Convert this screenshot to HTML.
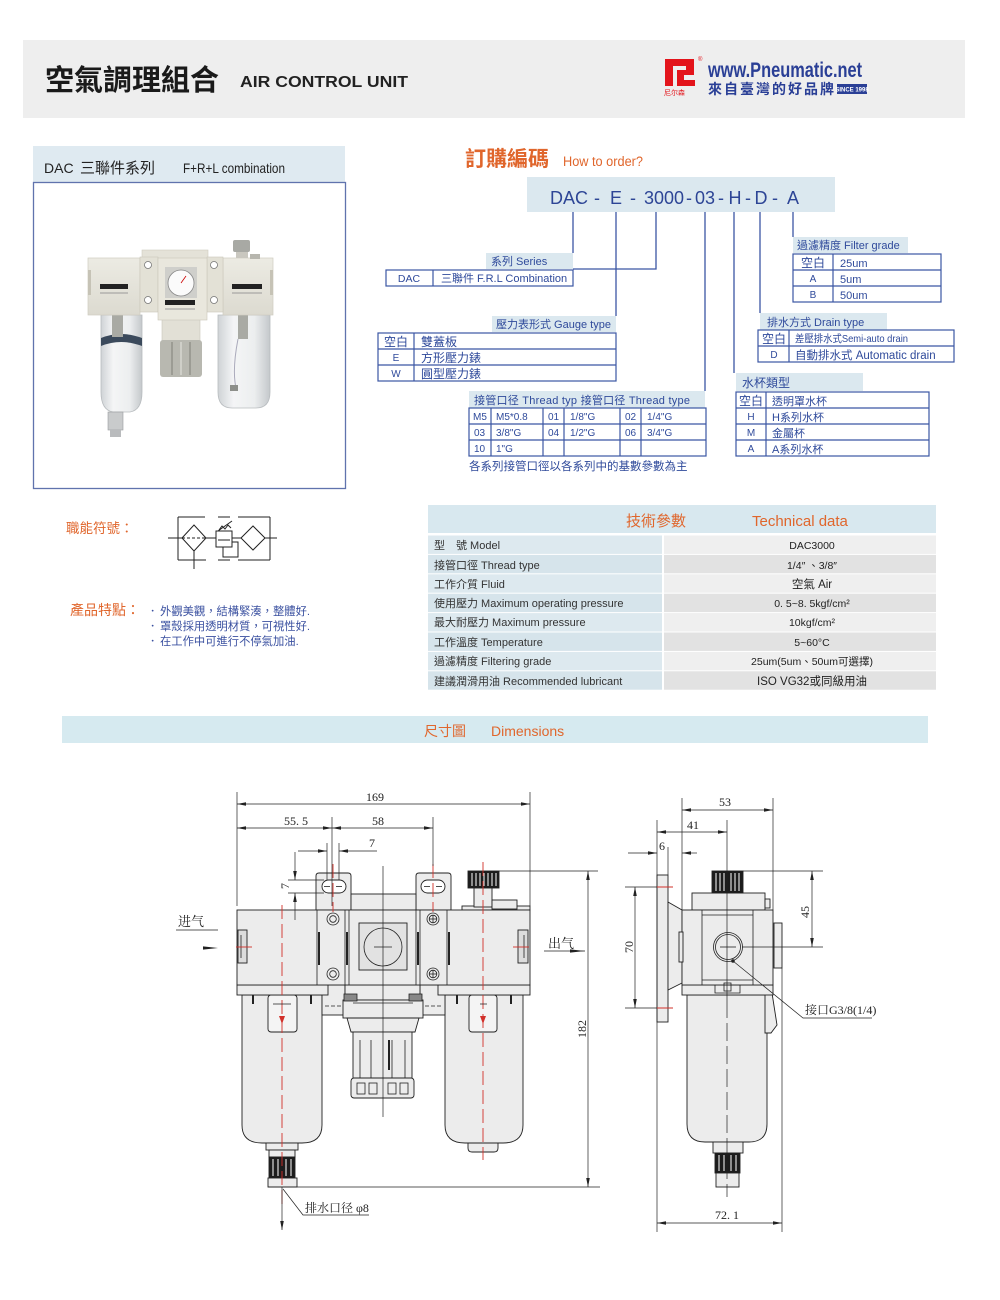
<!DOCTYPE html>
<html><head><meta charset="utf-8">
<style>
html,body{margin:0;padding:0;background:#fff;}
body{width:1000px;height:1300px;position:relative;overflow:hidden;}
svg{position:absolute;left:0;top:0;}
.s{font-family:"Liberation Sans","Noto Sans CJK TC",sans-serif;}
.r{font-family:"Liberation Serif","Noto Serif CJK SC",serif;}
</style></head><body>
<svg width="1000" height="1300" viewBox="0 0 1000 1300" xmlns="http://www.w3.org/2000/svg">
<defs>
<marker id="a" viewBox="0 0 10 4" refX="10" refY="2" markerWidth="10" markerHeight="3.6" markerUnits="userSpaceOnUse" orient="auto-start-reverse"><path d="M0,0 L10,2 L0,4 z" fill="#222"/></marker>
<linearGradient id="bowl" x1="0" x2="1" y1="0" y2="0"><stop offset="0" stop-color="#cfd3d6"/><stop offset="0.3" stop-color="#f4f5f6"/><stop offset="0.7" stop-color="#eceeef"/><stop offset="1" stop-color="#c4c8cb"/></linearGradient>
<linearGradient id="head" x1="0" x2="0" y1="0" y2="1"><stop offset="0" stop-color="#ecebe3"/><stop offset="1" stop-color="#dcdad0"/></linearGradient>
</defs>

<!-- ===== HEADER ===== -->
<rect x="23" y="40" width="942" height="78" fill="#eeeeee"/>
<text x="45" y="90" font-size="29" font-weight="bold" class="s" fill="#1a1a1a">空氣調理組合</text>
<text x="240" y="87" font-size="16" font-weight="bold" class="s" fill="#222" textLength="168" lengthAdjust="spacingAndGlyphs">AIR CONTROL UNIT</text>
<path d="M665,59 H694 V73 H686 V66 H673 V86 H665 Z" fill="#e3141b"/>
<path d="M677,70 H694 V75 H684 V80 H695 V86 H677 Z" fill="#e3141b"/>
<text x="664" y="95" font-size="7" class="s" fill="#e3141b">尼尔森</text>
<text x="698" y="61" font-size="6" class="s" fill="#e3141b">®</text>
<text transform="translate(708,77) scale(0.78,1)" font-size="21" font-weight="bold" class="s" fill="#2a3f96">www.Pneumatic.net</text>
<text x="708" y="94" font-size="14" font-weight="bold" class="s" fill="#2a3f96" textLength="126" lengthAdjust="spacing">來自臺灣的好品牌</text>
<rect x="837" y="84" width="30" height="10" fill="#2a3f96"/>
<text x="852" y="91.5" font-size="6" font-weight="bold" class="s" fill="#fff" text-anchor="middle">SINCE 1998</text>

<!-- ===== LEFT PRODUCT BOX ===== -->
<rect x="33" y="146" width="312" height="36" fill="#dfeaf1"/>
<text x="44" y="173" font-size="14" class="s" fill="#222">DAC</text>
<text x="80" y="173" font-size="15" class="s" fill="#222">三聯件系列</text>
<text x="183" y="173" font-size="14" class="s" fill="#222" textLength="102" lengthAdjust="spacingAndGlyphs">F+R+L combination</text>
<rect x="33.5" y="182.5" width="312" height="306" fill="#fff" stroke="#6073ad" stroke-width="1.3"/>

<!-- product photo -->
<g>
 <path d="M101,315 V392 Q101,410 113,412 H130 Q142,410 142,392 V315 Z" fill="url(#bowl)" stroke="#b8bcbf" stroke-width="0.8"/>
 <path d="M101,338 Q121,330 142,338 L142,346 Q121,338 101,346 Z" fill="#3b4a5c"/>
 <rect x="112" y="315" width="11" height="22" fill="#a9aaa4"/>
 <rect x="108" y="412" width="15" height="18" fill="#c9cbcc" stroke="#9a9c9e" stroke-width="0.6"/>
 <rect x="110" y="430" width="11" height="7" fill="#b9bbbd"/>
 <path d="M218,315 V392 Q218,408 232,408 H256 Q270,408 270,392 V315 Z" fill="url(#bowl)" stroke="#b8bcbf" stroke-width="0.8"/>
 <rect x="238" y="315" width="10" height="24" fill="#a9aaa4"/>
 <path d="M238,339 Q232,370 236,388" stroke="#aab" stroke-width="1" fill="none"/>
 <rect x="230" y="385" width="8" height="6" fill="#8d8f8a"/>
 <rect x="162" y="318" width="38" height="24" fill="#e2e0d6" stroke="#cac7bb" stroke-width="0.6"/>
 <rect x="160" y="340" width="42" height="37" rx="3" fill="#b8b8b0"/>
 <line x1="172" y1="342" x2="172" y2="375" stroke="#9c9c94" stroke-width="2"/>
 <line x1="181" y1="342" x2="181" y2="375" stroke="#cfcfc8" stroke-width="2"/>
 <line x1="190" y1="342" x2="190" y2="375" stroke="#9c9c94" stroke-width="2"/>
 <rect x="88" y="258" width="52" height="57" fill="url(#head)" stroke="#cfccc0" stroke-width="0.7"/>
 <rect x="88" y="270" width="3" height="25" fill="#c6c3b6"/>
 <rect x="223" y="258" width="50" height="57" fill="url(#head)" stroke="#cfccc0" stroke-width="0.7"/>
 <rect x="270" y="270" width="3" height="25" fill="#c6c3b6"/>
 <rect x="142" y="250" width="66" height="9" fill="#e4e2d8" stroke="#cfccc0" stroke-width="0.6"/>
 <rect x="140" y="257" width="18" height="55" fill="#e3e1d6" stroke="#cac7ba" stroke-width="0.6"/>
 <rect x="207" y="257" width="16" height="55" fill="#e3e1d6" stroke="#cac7ba" stroke-width="0.6"/>
 <rect x="158" y="258" width="49" height="62" fill="#e9e7dd" stroke="#cac7ba" stroke-width="0.6"/>
 <circle cx="148" cy="265" r="3.5" fill="#fff" stroke="#777" stroke-width="0.8"/>
 <circle cx="148" cy="300" r="3.5" fill="#fff" stroke="#777" stroke-width="0.8"/>
 <circle cx="214" cy="265" r="3.5" fill="#fff" stroke="#777" stroke-width="0.8"/>
 <circle cx="214" cy="300" r="3.5" fill="#fff" stroke="#777" stroke-width="0.8"/>
 <rect x="165" y="267" width="32" height="31" fill="#cfcfcb"/>
 <circle cx="181" cy="283" r="13" fill="#fbfbfb" stroke="#888" stroke-width="0.8"/>
 <line x1="181" y1="283" x2="186" y2="276" stroke="#c00" stroke-width="0.8"/>
 <rect x="165" y="300" width="30" height="5" fill="#222"/>
 <rect x="100" y="284" width="28" height="5" fill="#222"/>
 <rect x="232" y="284" width="30" height="5" fill="#222"/>
 <line x1="100" y1="293" x2="128" y2="293" stroke="#999" stroke-width="1"/>
 <line x1="232" y1="293" x2="262" y2="293" stroke="#999" stroke-width="1"/>
 <line x1="165" y1="309" x2="195" y2="309" stroke="#999" stroke-width="1"/>
 <rect x="236" y="250" width="12" height="8" fill="#c9c7bf"/>
 <rect x="233" y="240" width="17" height="12" rx="2" fill="#a8a9a4"/>
 <rect x="250" y="254" width="10" height="5" fill="#b7b6ae"/>
</g>

<!-- ===== FUNCTION SYMBOL ===== -->
<text x="66" y="533" font-size="13.5" class="s" fill="#e0662c">職能符號：</text>
<g stroke="#222" stroke-width="1" fill="none">
 <line x1="178" y1="517" x2="178" y2="560"/><line x1="270" y1="517" x2="270" y2="560"/>
 <line x1="178" y1="517" x2="205" y2="517"/><line x1="218" y1="517" x2="230" y2="517"/><line x1="238" y1="517" x2="270" y2="517"/>
 <line x1="178" y1="560" x2="206" y2="560"/><line x1="218" y1="560" x2="230" y2="560"/><line x1="238" y1="560" x2="270" y2="560"/>
 <line x1="168" y1="538" x2="182" y2="538"/><line x1="206" y1="538" x2="216" y2="538"/><line x1="232" y1="538" x2="241" y2="538"/><line x1="265" y1="538" x2="277" y2="538"/>
 <path d="M182,538 L194,525 L206,538 L194,551 Z"/>
 <line x1="182" y1="538" x2="206" y2="538" stroke-dasharray="3,2"/>
 <line x1="194" y1="551" x2="194" y2="569"/>
 <rect x="216" y="531" width="16" height="16"/>
 <line x1="218" y1="540" x2="230" y2="540"/>
 <path d="M232,542 H238 V557 H223 V547"/>
 <path d="M219,530 L222,526 L225,529 L228,525 L231,528"/>
 <line x1="218" y1="531" x2="232" y2="521"/>
 <path d="M241,538 L253,526 L265,538 L253,550 Z"/>
</g>

<!-- ===== FEATURES ===== -->
<text x="70" y="615" font-size="14" class="s" fill="#e0662c">產品特點：</text>
<g font-size="11.3" class="s" fill="#3a50a0">
 <text x="147" y="615">．</text><text x="160" y="615">外觀美觀，結構緊湊，整體好.</text>
 <text x="147" y="630">．</text><text x="160" y="630">罩殼採用透明材質，可視性好.</text>
 <text x="147" y="645">．</text><text x="160" y="645">在工作中可進行不停氣加油.</text>
</g>

<!-- ===== HOW TO ORDER ===== -->
<text x="465" y="166" font-size="21" font-weight="bold" class="s" fill="#e0662c">訂購編碼</text>
<text x="563" y="166" font-size="13.5" class="s" fill="#e0662c" textLength="80" lengthAdjust="spacingAndGlyphs">How to order?</text>
<rect x="527" y="177" width="308" height="35" fill="#dbe8ef"/>
<g font-size="18" class="s" fill="#2d4596" text-anchor="middle">
 <text x="569" y="204">DAC</text><text x="597" y="204">-</text>
 <text x="616" y="204">E</text><text x="633" y="204">-</text>
 <text x="664" y="204">3000</text><text x="689" y="204">-</text>
 <text x="705" y="204">03</text><text x="721" y="204">-</text>
 <text x="735" y="204">H</text><text x="748" y="204">-</text>
 <text x="761" y="204">D</text><text x="775" y="204">-</text>
 <text x="793" y="204">A</text>
</g>
<g stroke="#3b56a3" stroke-width="1.3" fill="none">
 <line x1="573" y1="212" x2="573" y2="253"/>
 <line x1="616" y1="212" x2="616" y2="316"/>
 <path d="M656,212 V269 H573"/>
 <line x1="705" y1="212" x2="705" y2="391"/>
 <line x1="734" y1="212" x2="734" y2="373"/>
 <line x1="760" y1="212" x2="760" y2="313"/>
 <line x1="793" y1="212" x2="793" y2="237"/>
</g>
<g fill="#dbe8ef">
 <rect x="486" y="253" width="87" height="16"/>
 <rect x="492" y="316" width="124" height="16"/>
 <rect x="469" y="391" width="236" height="17"/>
 <rect x="793" y="237" width="115" height="16"/>
 <rect x="760" y="313" width="127" height="17"/>
 <rect x="736" y="373" width="127" height="18"/>
</g>
<g font-size="11" class="s" fill="#2f4a9b">
 <text x="491" y="265">系列 Series</text>
 <text x="496" y="328">壓力表形式 Gauge type</text>
 <text x="474" y="404" textLength="216" lengthAdjust="spacing">接管口径 Thread typ  接管口径 Thread type</text>
 <text x="797" y="249">過濾精度 Filter grade</text>
 <text x="767" y="326">排水方式 Drain type</text>
 <text x="742" y="387" font-size="12">水杯類型</text>
</g>
<g stroke="#3b56a3" stroke-width="1.2" fill="none">
 <rect x="386" y="270" width="187" height="16"/><line x1="433" y1="270" x2="433" y2="286"/>
 <rect x="378" y="333" width="238" height="48"/><line x1="378" y1="349" x2="616" y2="349"/><line x1="378" y1="365" x2="616" y2="365"/><line x1="414" y1="333" x2="414" y2="381"/>
 <rect x="469" y="408" width="237" height="48"/><line x1="469" y1="424" x2="706" y2="424"/><line x1="469" y1="440" x2="706" y2="440"/>
 <line x1="491" y1="408" x2="491" y2="456"/><line x1="543" y1="408" x2="543" y2="456"/><line x1="564" y1="408" x2="564" y2="456"/><line x1="620" y1="408" x2="620" y2="456"/><line x1="641" y1="408" x2="641" y2="456"/>
 <rect x="793" y="254" width="148" height="48"/><line x1="793" y1="270" x2="941" y2="270"/><line x1="793" y1="286" x2="941" y2="286"/><line x1="833" y1="254" x2="833" y2="302"/>
 <rect x="758" y="330" width="196" height="32"/><line x1="758" y1="346" x2="954" y2="346"/><line x1="789" y1="330" x2="789" y2="362"/>
 <rect x="736" y="392" width="193" height="64"/><line x1="736" y1="408" x2="929" y2="408"/><line x1="736" y1="424" x2="929" y2="424"/><line x1="736" y1="440" x2="929" y2="440"/><line x1="766" y1="392" x2="766" y2="456"/>
</g>
<g font-size="10.5" class="s" fill="#2f4a9b">
 <text x="409" y="282" text-anchor="middle">DAC</text>
 <text x="441" y="282" font-size="11">三聯件 F.R.L Combination</text>
 <text x="396" y="346" text-anchor="middle" font-size="12">空白</text>
 <text x="396" y="361" text-anchor="middle" font-size="10">E</text>
 <text x="396" y="377" text-anchor="middle" font-size="10">W</text>
 <text x="421" y="346" font-size="12">雙蓋板</text>
 <text x="421" y="362" font-size="12">方形壓力錶</text>
 <text x="421" y="378" font-size="12">圓型壓力錶</text>
 <g font-size="10">
 <text x="473" y="420">M5</text><text x="496" y="420">M5*0.8</text><text x="548" y="420">01</text><text x="570" y="420">1/8"G</text><text x="625" y="420">02</text><text x="647" y="420">1/4"G</text>
 <text x="474" y="436">03</text><text x="496" y="436">3/8"G</text><text x="548" y="436">04</text><text x="570" y="436">1/2"G</text><text x="625" y="436">06</text><text x="647" y="436">3/4"G</text>
 <text x="474" y="452">10</text><text x="496" y="452">1"G</text>
 </g>
 <text x="469" y="470" font-size="11.5">各系列接管口徑以各系列中的基數參數為主</text>
 <text x="813" y="267" text-anchor="middle" font-size="12">空白</text>
 <text x="813" y="282" text-anchor="middle" font-size="10">A</text>
 <text x="813" y="298" text-anchor="middle" font-size="10">B</text>
 <text x="840" y="267" font-size="11">25um</text>
 <text x="840" y="283" font-size="11">5um</text>
 <text x="840" y="299" font-size="11">50um</text>
 <text x="774" y="343" text-anchor="middle" font-size="12">空白</text>
 <text x="774" y="358" text-anchor="middle" font-size="10">D</text>
 <text x="795" y="342" font-size="10.5" textLength="113" lengthAdjust="spacingAndGlyphs">差壓排水式Semi-auto drain</text>
 <text x="795" y="359" font-size="11.5">自動排水式  Automatic drain</text>
 <text x="751" y="405" text-anchor="middle" font-size="12">空白</text>
 <text x="751" y="420" text-anchor="middle" font-size="10">H</text>
 <text x="751" y="436" text-anchor="middle" font-size="10">M</text>
 <text x="751" y="452" text-anchor="middle" font-size="10">A</text>
 <text x="772" y="405" font-size="11">透明罩水杯</text>
 <text x="772" y="421" font-size="11">H系列水杯</text>
 <text x="772" y="437" font-size="11">金屬杯</text>
 <text x="772" y="453" font-size="11">A系列水杯</text>
</g>

<!-- ===== TECHNICAL DATA ===== -->
<rect x="428" y="505" width="508" height="28" fill="#d8e8ef"/>
<text x="626" y="526" font-size="15" class="s" fill="#e0662c">技術參數</text>
<text x="752" y="526" font-size="15" class="s" fill="#e0662c">Technical data</text>
<g>
 <rect x="428" y="535.5" width="234" height="18.4" fill="#dde9ef"/><rect x="664" y="535.5" width="272" height="18.4" fill="#efefef"/>
 <rect x="428" y="554.9" width="234" height="18.4" fill="#d6e4eb"/><rect x="664" y="554.9" width="272" height="18.4" fill="#e2e2e2"/>
 <rect x="428" y="574.3" width="234" height="18.4" fill="#dde9ef"/><rect x="664" y="574.3" width="272" height="18.4" fill="#efefef"/>
 <rect x="428" y="593.7" width="234" height="18.4" fill="#d6e4eb"/><rect x="664" y="593.7" width="272" height="18.4" fill="#e2e2e2"/>
 <rect x="428" y="613.1" width="234" height="18.4" fill="#dde9ef"/><rect x="664" y="613.1" width="272" height="18.4" fill="#efefef"/>
 <rect x="428" y="632.5" width="234" height="18.4" fill="#d6e4eb"/><rect x="664" y="632.5" width="272" height="18.4" fill="#e2e2e2"/>
 <rect x="428" y="651.9" width="234" height="18.4" fill="#dde9ef"/><rect x="664" y="651.9" width="272" height="18.4" fill="#efefef"/>
 <rect x="428" y="671.3" width="234" height="18.4" fill="#d6e4eb"/><rect x="664" y="671.3" width="272" height="18.4" fill="#e2e2e2"/>
</g>
<g font-size="11" class="s" fill="#333">
 <text x="434" y="549">型　號 Model</text>
 <text x="434" y="569">接管口徑 Thread type</text>
 <text x="434" y="588">工作介質 Fluid</text>
 <text x="434" y="607">使用壓力 Maximum operating pressure</text>
 <text x="434" y="626">最大耐壓力 Maximum pressure</text>
 <text x="434" y="646">工作溫度 Temperature</text>
 <text x="434" y="665">過濾精度 Filtering grade</text>
 <text x="434" y="685">建議潤滑用油 Recommended lubricant</text>
</g>
<g font-size="10.5" class="s" fill="#222" text-anchor="middle">
 <text x="812" y="549">DAC3000</text>
 <text x="812" y="569">1/4″ 、3/8″</text>
 <text x="812" y="588" font-size="11.5">空氣 Air</text>
 <text x="812" y="607">0. 5~8. 5kgf/cm²</text>
 <text x="812" y="626">10kgf/cm²</text>
 <text x="812" y="646">5~60°C</text>
 <text x="812" y="665">25um(5um、50um可選擇)</text>
 <text x="812" y="685" font-size="11.5">ISO VG32或同級用油</text>
</g>

<!-- ===== DIMENSIONS BANNER ===== -->
<rect x="62" y="716" width="866" height="27" fill="#d6eaf0"/>
<text x="424" y="736" font-size="14" class="s" fill="#e0662c">尺寸圖</text>
<text x="491" y="736" font-size="14" class="s" fill="#e0662c">Dimensions</text>

<!-- ===== FRONT VIEW DRAWING ===== -->
<g stroke="#222" stroke-width="0.9" fill="#ececec">
 <path d="M242,995 V1125 Q242,1143 262,1143 H302 Q322,1143 322,1125 V995 Z"/>
 <path d="M445,995 V1125 Q445,1143 465,1143 H503 Q523,1143 523,1125 V995 Z"/>
 <rect x="266" y="1143" width="32" height="7"/>
 <rect x="269" y="1150" width="26" height="7"/>
 <rect x="269" y="1157" width="26" height="21" fill="#1c1c1c"/>
 <rect x="268" y="1178" width="29" height="9"/>
 <path d="M468,1143 H498 V1148 Q498,1152 494,1152 H472 Q468,1152 468,1148 Z"/>
 <rect x="268" y="995" width="29" height="37" rx="3" fill="#f4f4f4"/>
 <rect x="469" y="995" width="28" height="37" rx="3" fill="#f4f4f4"/>
 <rect x="322" y="985" width="23" height="30"/>
 <rect x="420" y="985" width="25" height="30"/>
 <rect x="345" y="985" width="75" height="15"/>
 <rect x="343" y="1000" width="80" height="18"/>
 <path d="M347,1018 H419 L415,1032 H351 Z"/>
 <rect x="353" y="1032" width="59" height="48"/>
 <rect x="351" y="1078" width="63" height="20" rx="3"/>
 <rect x="237" y="985" width="91" height="10"/>
 <rect x="438" y="985" width="92" height="10"/>
 <path d="M316,910 V876 Q316,873 319,873 H348 Q351,873 351,876 V910 Z"/>
 <path d="M416,910 V876 Q416,873 419,873 H448 Q451,873 451,876 V910 Z"/>
 <rect x="322" y="880" width="24" height="13" rx="6.5" fill="#fff"/>
 <rect x="421" y="880" width="24" height="13" rx="6.5" fill="#fff"/>
 <rect x="351" y="894" width="65" height="16"/>
 <rect x="462" y="906" width="68" height="4"/>
 <rect x="474" y="887" width="18" height="20"/>
 <rect x="492" y="900" width="25" height="9"/>
 <rect x="468" y="871" width="31" height="17" fill="#1c1c1c"/>
 <rect x="237" y="910" width="293" height="75"/>
 <rect x="359" y="923" width="48" height="47" fill="#e2e2e2"/>
 <rect x="238" y="930" width="9" height="33" fill="#dcdcdc"/>
 <rect x="518" y="930" width="10" height="33" fill="#dcdcdc"/>
</g>
<g stroke="#222" stroke-width="0.8" fill="none">
 <line x1="317" y1="910" x2="317" y2="985"/><line x1="345" y1="910" x2="345" y2="985"/>
 <line x1="349" y1="910" x2="349" y2="985"/><line x1="416" y1="910" x2="416" y2="985"/>
 <line x1="420" y1="910" x2="420" y2="985"/><line x1="447" y1="910" x2="447" y2="985"/>
 <line x1="319" y1="932" x2="319" y2="965" stroke-width="2"/><line x1="347" y1="932" x2="347" y2="965" stroke-width="2"/>
 <line x1="418" y1="932" x2="418" y2="965" stroke-width="2"/><line x1="449" y1="932" x2="449" y2="965" stroke-width="2"/>
 <line x1="241" y1="935" x2="241" y2="958"/><line x1="524" y1="935" x2="524" y2="958"/>
 <circle cx="383" cy="947" r="19"/>
 <line x1="374" y1="947" x2="392" y2="947"/>
 <circle cx="333" cy="919" r="6"/><circle cx="333" cy="919" r="3.3"/>
 <circle cx="333" cy="974" r="6"/><circle cx="333" cy="974" r="3.3"/>
 <circle cx="433" cy="919" r="6"/><circle cx="433" cy="919" r="3.8"/><line x1="429" y1="919" x2="437" y2="919"/><line x1="433" y1="915" x2="433" y2="923"/>
 <circle cx="433" cy="974" r="6"/><circle cx="433" cy="974" r="3.8"/><line x1="429" y1="974" x2="437" y2="974"/><line x1="433" y1="970" x2="433" y2="978"/>
 <line x1="324" y1="886.5" x2="330" y2="886.5"/><line x1="336" y1="886.5" x2="342" y2="886.5"/>
 <line x1="424" y1="886.5" x2="430" y2="886.5"/><line x1="436" y1="886.5" x2="442" y2="886.5"/>
 <line x1="325" y1="1006" x2="341" y2="1006" stroke-dasharray="4,2"/><line x1="425" y1="1006" x2="441" y2="1006" stroke-dasharray="4,2"/>
 <line x1="253" y1="995" x2="253" y2="1004" stroke-width="2"/><line x1="311" y1="995" x2="311" y2="1004" stroke-width="2"/>
 <line x1="457" y1="995" x2="457" y2="1004" stroke-width="2"/><line x1="511" y1="995" x2="511" y2="1004" stroke-width="2"/>
 <line x1="353" y1="1003" x2="413" y2="1003"/>
 <line x1="360" y1="1040" x2="360" y2="1078"/><line x1="371" y1="1040" x2="371" y2="1078"/><line x1="392" y1="1040" x2="392" y2="1078"/><line x1="405" y1="1040" x2="405" y2="1078"/>
 <line x1="389" y1="1040" x2="389" y2="1070" stroke-width="2"/>
 <rect x="357" y="1083" width="8" height="11"/><rect x="369" y="1083" width="8" height="11"/><rect x="388" y="1083" width="8" height="11"/><rect x="400" y="1083" width="8" height="11"/>
 <rect x="344" y="994" width="13" height="7" fill="#888"/><rect x="409" y="994" width="13" height="7" fill="#888"/>
 <line x1="383" y1="866" x2="383" y2="1117" stroke-width="0.7"/>
</g>
<g stroke="#fff" stroke-width="1">
 <line x1="472" y1="873" x2="472" y2="886"/><line x1="476" y1="873" x2="476" y2="886"/><line x1="480" y1="873" x2="480" y2="886"/><line x1="484" y1="873" x2="484" y2="886"/><line x1="488" y1="873" x2="488" y2="886"/><line x1="492" y1="873" x2="492" y2="886"/><line x1="496" y1="873" x2="496" y2="886"/>
 <line x1="273" y1="1159" x2="273" y2="1176"/><line x1="278" y1="1159" x2="278" y2="1176"/><line x1="286" y1="1159" x2="286" y2="1176"/><line x1="291" y1="1159" x2="291" y2="1176"/>
</g>
<g stroke="#d2302a" stroke-width="0.9" fill="none" stroke-dasharray="14,5">
 <line x1="282" y1="905" x2="282" y2="1205"/>
 <line x1="483" y1="862" x2="483" y2="1160"/>
 <line x1="333" y1="864" x2="333" y2="912"/>
 <line x1="433" y1="864" x2="433" y2="912"/>
</g>
<g stroke="#d2302a" stroke-width="0.9">
 <line x1="236" y1="947" x2="252" y2="947"/><line x1="513" y1="947" x2="529" y2="947"/>
</g>
<path d="M279,1016 L282,1024 L285,1016 Z" fill="#d2302a"/>
<path d="M480,1016 L483,1024 L486,1016 Z" fill="#d2302a"/>
<g stroke="#222" stroke-width="0.7" fill="none">
 <path d="M273,1004 H291 M480,1004 H487"/>
</g>

<g stroke="#222" stroke-width="0.7" fill="none">
 <line x1="237" y1="792" x2="237" y2="906"/><line x1="530" y1="792" x2="530" y2="906"/>
 <line x1="237" y1="804" x2="530" y2="804" marker-start="url(#a)" marker-end="url(#a)"/>
 <line x1="332" y1="817" x2="332" y2="906"/><line x1="433" y1="817" x2="433" y2="866"/>
 <line x1="237" y1="828" x2="332" y2="828" marker-start="url(#a)" marker-end="url(#a)"/>
 <line x1="332" y1="828" x2="433" y2="828" marker-start="url(#a)" marker-end="url(#a)"/>
 <line x1="327" y1="843" x2="327" y2="880"/><line x1="339" y1="843" x2="339" y2="880"/>
 <line x1="298" y1="851" x2="327" y2="851" marker-end="url(#a)"/>
 <line x1="377" y1="851" x2="339" y2="851" marker-end="url(#a)"/>
 <line x1="288" y1="880" x2="324" y2="880"/><line x1="288" y1="893" x2="324" y2="893"/>
 <line x1="295" y1="852" x2="295" y2="880" marker-end="url(#a)"/>
 <line x1="295" y1="920" x2="295" y2="893" marker-end="url(#a)"/>
 <line x1="499" y1="871" x2="598" y2="871"/>
 <line x1="268" y1="1187" x2="600" y2="1187"/>
 <line x1="588" y1="871" x2="588" y2="1187" marker-start="url(#a)" marker-end="url(#a)"/>
 <line x1="176" y1="930" x2="218" y2="930"/>
 <line x1="544" y1="951" x2="585" y2="951"/>
 <line x1="282" y1="1187" x2="282" y2="1230" marker-end="url(#a)"/>
 <path d="M283,1189 L303,1215 H369"/>
</g>
<path d="M203,946.4 L218,948 L203,949.6 Z" fill="#222"/>
<path d="M570,949.4 L585,951 L570,952.6 Z" fill="#222"/>
<g font-size="12" class="r" fill="#222">
 <text x="375" y="801" text-anchor="middle">169</text>
 <text x="296" y="825" text-anchor="middle">55. 5</text>
 <text x="378" y="825" text-anchor="middle">58</text>
 <text x="372" y="847" text-anchor="middle">7</text>
 <text transform="translate(289,886) rotate(-90)" text-anchor="middle">7</text>
 <text transform="translate(586,1029) rotate(-90)" text-anchor="middle">182</text>
 <text x="178" y="926" font-size="13">进气</text>
 <text x="548" y="948" font-size="13">出气</text>
 <text x="305" y="1212">排水口径 φ8</text>
</g>

<!-- ===== SIDE VIEW DRAWING ===== -->
<g stroke="#222" stroke-width="0.9" fill="#ececec">
 <rect x="657" y="875" width="11" height="147"/>
 <path d="M668,902 L682,910 V983 L668,990 Z"/>
 <path d="M687,995 V1124 Q687,1142 705,1142 H749 Q767,1142 767,1124 V995 Z"/>
 <path d="M765,993 H772 L777,1025 L771,1033 H765 Z"/>
 <rect x="713" y="1142" width="30" height="11"/>
 <rect x="715" y="1153" width="25" height="20" fill="#1c1c1c"/>
 <rect x="716" y="1173" width="23" height="14"/>
 <rect x="682" y="985" width="91" height="10"/>
 <rect x="692" y="893" width="73" height="17"/>
 <rect x="765" y="899" width="5" height="9"/>
 <rect x="712" y="871" width="31" height="22" fill="#1c1c1c"/>
 <rect x="682" y="910" width="91" height="75"/>
 <rect x="679" y="932" width="4" height="30"/>
 <rect x="774" y="923" width="8" height="45"/>
</g>
<g stroke="#222" stroke-width="0.8" fill="none">
 <line x1="702" y1="910" x2="702" y2="985"/><line x1="753" y1="910" x2="753" y2="985"/>
 <line x1="702" y1="915" x2="753" y2="915"/><line x1="702" y1="980" x2="753" y2="980"/>
 <circle cx="728" cy="947" r="14.5"/><circle cx="728" cy="947" r="12.5"/>
 <line x1="720" y1="947" x2="736" y2="947"/>
 <rect x="724" y="983" width="7" height="8"/>
 <path d="M715,985 V993 H740 V985"/>
 <line x1="727" y1="820" x2="727" y2="1000" stroke-width="0.7"/>
 <line x1="727" y1="1000" x2="727" y2="1197" stroke-width="0.7" stroke-dasharray="18,5"/>
</g>
<g stroke="#fff" stroke-width="1">
 <line x1="716" y1="873" x2="716" y2="891"/><line x1="720" y1="873" x2="720" y2="891"/><line x1="724" y1="873" x2="724" y2="891"/><line x1="731" y1="873" x2="731" y2="891"/><line x1="735" y1="873" x2="735" y2="891"/><line x1="739" y1="873" x2="739" y2="891"/>
 <line x1="719" y1="1155" x2="719" y2="1171"/><line x1="724" y1="1155" x2="724" y2="1171"/><line x1="731" y1="1155" x2="731" y2="1171"/><line x1="736" y1="1155" x2="736" y2="1171"/>
</g>
<g stroke="#222" stroke-width="0.7" fill="none">
 <line x1="682" y1="798" x2="682" y2="910"/><line x1="773" y1="798" x2="773" y2="910"/>
 <line x1="682" y1="810" x2="773" y2="810" marker-start="url(#a)" marker-end="url(#a)"/>
 <line x1="657" y1="820" x2="657" y2="1232"/>
 <line x1="657" y1="832" x2="727" y2="832" marker-start="url(#a)" marker-end="url(#a)"/>
 <line x1="668" y1="847" x2="668" y2="875"/>
 <line x1="628" y1="853" x2="657" y2="853" marker-end="url(#a)"/>
 <line x1="697" y1="853" x2="682" y2="853" marker-end="url(#a)"/>
 <line x1="625" y1="887" x2="657" y2="887"/><line x1="625" y1="1008" x2="657" y2="1008"/>
 <line x1="635" y1="887" x2="635" y2="1008" marker-start="url(#a)" marker-end="url(#a)"/>
 <line x1="743" y1="871" x2="823" y2="871"/><line x1="742" y1="947" x2="823" y2="947"/>
 <line x1="812" y1="871" x2="812" y2="947" marker-start="url(#a)" marker-end="url(#a)"/>
 <line x1="782" y1="968" x2="782" y2="1232"/>
 <line x1="657" y1="1223" x2="782" y2="1223" marker-start="url(#a)" marker-end="url(#a)"/>
 <path d="M733,961 L803,1018 H872"/>
</g>
<g stroke="#d2302a" stroke-width="1">
 <line x1="657" y1="887" x2="673" y2="887"/><line x1="657" y1="1008" x2="673" y2="1008"/>
</g>
<circle cx="733" cy="961" r="1.8" fill="#222"/>
<g font-size="12" class="r" fill="#222">
 <text x="725" y="806" text-anchor="middle">53</text>
 <text x="693" y="829" text-anchor="middle">41</text>
 <text x="662" y="850" text-anchor="middle">6</text>
 <text transform="translate(633,947) rotate(-90)" text-anchor="middle">70</text>
 <text transform="translate(809,912) rotate(-90)" text-anchor="middle">45</text>
 <text x="805" y="1014">接口G3/8(1/4)</text>
 <text x="727" y="1219" text-anchor="middle">72. 1</text>
</g>
</svg>
</body></html>
